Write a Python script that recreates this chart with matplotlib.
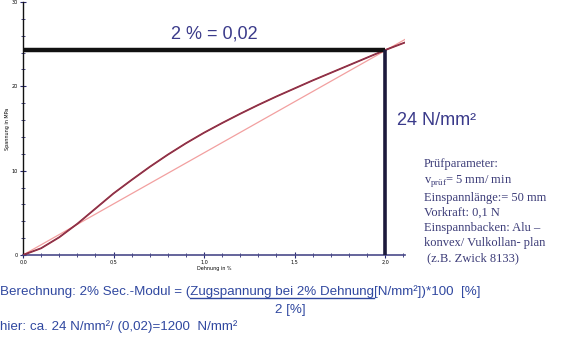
import numpy as np
import matplotlib
matplotlib.use("Agg")
import matplotlib.pyplot as plt

strain = [0.0, 0.1, 0.2, 0.3, 0.4, 0.5, 0.6, 0.7, 0.8, 0.9, 1.0, 1.1,
          1.2, 1.3, 1.4, 1.5, 1.6, 1.7, 1.8, 1.9, 2.0, 2.11]
stress = [0.0, 0.8, 2.1, 3.7, 5.5, 7.3, 8.9, 10.45, 11.9, 13.25, 14.5, 15.65,
          16.75, 17.8, 18.8, 19.75, 20.7, 21.6, 22.5, 23.4, 24.3, 25.2]

# secant line through origin and the 2 % point
secant_x = [0.0, 2.27]
secant_y = [0.0, 27.5]

# the 2 % point
point_x = 2.0
point_y = 24.3

x_ticks = [0.0, 0.5, 1.0, 1.5, 2.0]
x_ticklabels = ["0,0", "0,5", "1,0", "1,5", "2,0"]
y_ticks = [0, 10, 20, 30]
y_ticklabels = ["0", "10", "20", "30"]

params = ["Prüfparameter:",
          r"v$_{\mathregular{prüf}}$= 5 mm/ min",
          "Einspannlänge:= 50 mm",
          "Vorkraft: 0,1 N",
          "Einspannbacken: Alu –",
          "konvex/ Vulkollan- plan",
          " (z.B. Zwick 8133)"]

W, H = 580, 340
fig = plt.figure(figsize=(W / 100, H / 100), dpi=100)
ax = fig.add_axes([23 / W, (H - 255) / H, (405 - 23) / W, (255 - 2) / H])

ax.plot(secant_x, secant_y, color="#f2a0a0", lw=0.9, zorder=2)
ax.plot(strain, stress, color="#9a1a20", lw=1.3, zorder=3)
ax.plot(strain, stress, color="#6a5aa0", lw=0.5, alpha=0.6, zorder=4)

ax.plot([0, point_x], [point_y, point_y], color="#111111", lw=3.2,
        solid_capstyle="butt", zorder=5, clip_on=False)
ax.plot([point_x, point_x], [0, point_y], color="#1c1a3c", lw=2.6,
        solid_capstyle="butt", zorder=5, clip_on=False)

ax.set_xlim(0, 2.11)
ax.set_ylim(0, 30)
ax.set_xticks(x_ticks)
ax.set_xticklabels(x_ticklabels)
ax.set_yticks(y_ticks)
ax.set_yticklabels(y_ticklabels)
ax.set_xticks(np.arange(0, 2.11, 0.1), minor=True)
ax.set_yticks(np.arange(0, 30.1, 2), minor=True)
ax.tick_params(which="both", direction="inout", labelsize=3.5, pad=1,
               color="#2a2a70")
ax.tick_params(which="major", length=5, width=0.8)
ax.tick_params(which="minor", length=3, width=0.6)
for s in ["top", "right"]:
    ax.spines[s].set_visible(False)
ax.spines["bottom"].set_color("#4a4a8a")
ax.spines["bottom"].set_linewidth(1.2)
ax.spines["left"].set_color("#111111")
ax.spines["left"].set_linewidth(1.0)
ax.set_xlabel("Dehnung in %", fontsize=3.5, labelpad=1)
ax.set_ylabel("Spannung in MPa", fontsize=3.5, labelpad=1)
ax.patch.set_alpha(0)

blue = "#3a3a8a"
fig.text(214 / W, 1 - 34 / H, "2 % = 0,02", fontsize=13, color=blue,
         ha="center", va="center", family="Liberation Sans")
fig.text(397 / W, 1 - 120 / H, "24 N/mm²", fontsize=13, color=blue,
         ha="left", va="center", family="Liberation Sans")
fig.text(424 / W, 1 - 158 / H, "\n".join(params), fontsize=9, color="#3c3c78",
         ha="left", va="top", family="Liberation Serif", linespacing=1.33)

bot = "#3048a0"
bfs = 9.6
line1_a = "Berechnung: 2% Sec.-Modul = ("
line1_b = "Zugspannung bei 2% Dehnung"
line1_c = "[N/mm²])*100  [%]"
t1 = fig.text(0, 1 - 292 / H, line1_a + line1_b + line1_c,
              fontsize=bfs, color=bot, ha="left", va="center", family="Liberation Sans")

# underline under the numerator
r = fig.canvas.get_renderer()
ta = fig.text(0, 0, line1_a, fontsize=bfs, family="Liberation Sans")
tb = fig.text(0, 0, line1_a + line1_b, fontsize=bfs, family="Liberation Sans")
x0 = ta.get_window_extent(r).x1 / W
x1 = tb.get_window_extent(r).x1 / W
ta.remove()
tb.remove()
fig.add_artist(plt.Line2D([x0, x1], [1 - 298 / H, 1 - 298 / H], color=bot, lw=1.0))

fig.text(290 / W, 1 - 310 / H, "2 [%]", fontsize=bfs, color=bot,
         ha="center", va="center", family="Liberation Sans")
fig.text(0, 1 - 327 / H, "hier: ca. 24 N/mm²/ (0,02)=1200  N/mm²",
         fontsize=bfs, color=bot, ha="left", va="center", family="Liberation Sans")

fig.savefig("out.png", dpi=100)
